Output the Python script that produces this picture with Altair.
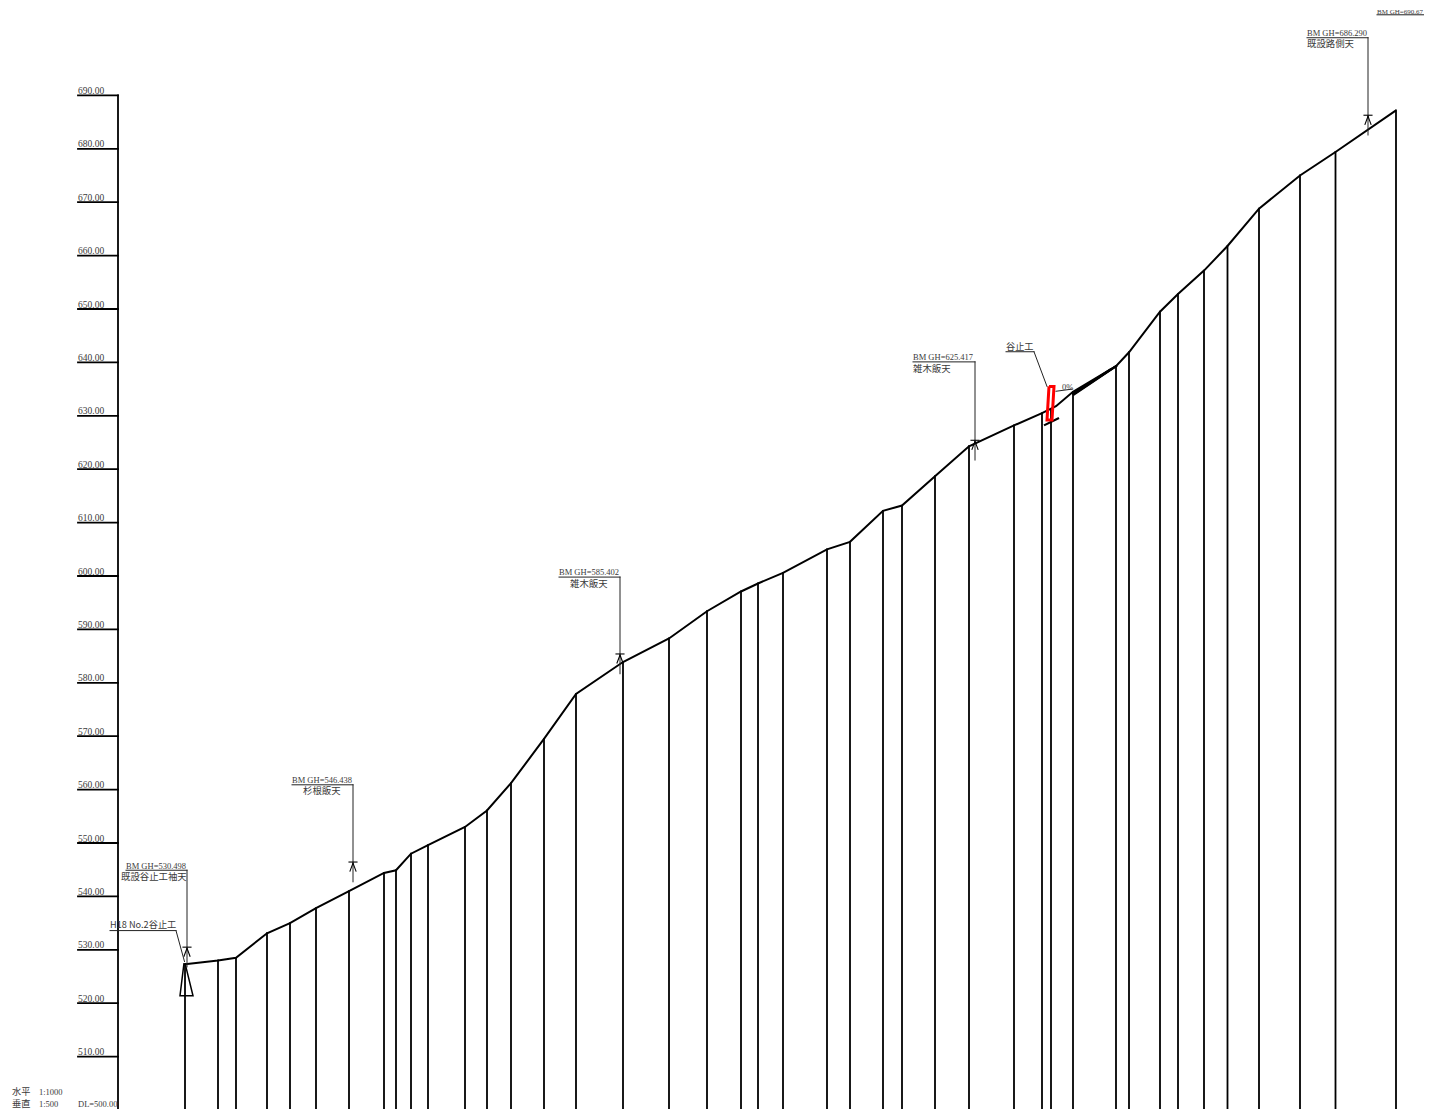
import altair as alt
import pandas as pd

X_DOMAIN = [8, 1424]
Y_DOMAIN = [500.19, 706.37]
BASE = 500

# Ground profile
station_x = [185, 218, 236, 267, 290, 316, 349, 384, 396, 411, 428, 465, 487, 511, 544, 576, 623, 669,
             707, 741, 758, 783, 827, 850, 883, 902, 935, 969, 1014, 1042, 1056, 1073, 1116, 1129,
             1160, 1178, 1204, 1227.5, 1259, 1300, 1335.5, 1396]
ground_elev = [527.3, 528.0, 528.5, 533.1, 535.0, 537.8, 541.0, 544.4, 544.9, 548.0, 549.6, 553.0, 556.1,
               561.2, 569.5, 577.9, 583.9, 588.3, 593.4, 597.1, 598.6, 600.6, 605.0, 606.4, 612.2, 613.2,
               618.7, 624.3, 628.2, 630.5, 631.8, 634.5, 639.3, 641.9, 649.5, 652.8, 657.2, 661.8, 668.8,
               675.0, 679.4, 687.2]
# Vertical station lines
vert_x = [185, 218, 236, 267, 290, 316, 349, 384, 396, 411, 428, 465, 487, 511, 544, 576, 623, 669,
          707, 741, 758, 783, 827, 850, 883, 902, 935, 969, 1014, 1042, 1051, 1073, 1116, 1129,
          1160, 1178, 1204, 1227.5, 1259, 1300, 1335.5, 1396]
vert_top = [527.3, 528.0, 528.5, 533.1, 535.0, 537.8, 541.0, 544.4, 544.9, 548.0, 549.6, 553.0, 556.1,
            561.2, 569.5, 577.9, 583.9, 588.3, 593.4, 597.1, 598.6, 600.6, 605.0, 606.4, 612.2, 613.2,
            618.7, 624.3, 628.2, 630.5, 631.2, 634.5, 639.3, 641.9, 649.5, 652.8, 657.2, 661.8, 668.8,
            675.0, 679.4, 687.2]

# Elevation axis
tick_elev = [510, 520, 530, 540, 550, 560, 570, 580, 590, 600, 610, 620, 630, 640, 650, 660, 670, 680, 690]
tick_labels = ["510.00", "520.00", "530.00", "540.00", "550.00", "560.00", "570.00", "580.00", "590.00",
               "600.00", "610.00", "620.00", "630.00", "640.00", "650.00", "660.00", "670.00", "680.00", "690.00"]

# Benchmarks
bm_x = [187, 353, 620, 975, 1368]
bm_elev = [530.498, 546.438, 585.402, 625.417, 686.290]
bm_left = [126, 292, 559, 913, 1307]
bm_line_elev = [544.9, 560.9, 599.8, 640.1, 700.8]
bm_labels = ["BM GH=530.498", "BM GH=546.438", "BM GH=585.402", "BM GH=625.417", "BM GH=686.290"]
bm_notes = ["既設谷止工袖天", "杉根飯天", "雑木飯天", "雑木飯天", "既設路側天"]
bm_note_x = [121, 303, 570, 913, 1307]

# Straight segments: x, elevation, x2, elevation2
leader_x = [1377, 110, 176, 1006, 1034, 1056]
leader_y = [705.1, 533.6, 533.6, 642.0, 642.0, 634.6]
leader_x2 = [1424, 176, 184.5, 1034, 1047, 1072]
leader_y2 = [705.1, 533.6, 527.8, 642.0, 635.5, 635.0]

# Old dam outline
dam_x = [184, 180, 193, 185]
dam_y = [527.5, 521.4, 521.4, 527.5]
# New dam (red)
red_x = [1049, 1054, 1052, 1047, 1049]
red_y = [635.5, 635.5, 629.2, 629.2, 635.5]
# Heavy wedge and foot
heavy_x = [1045, 1073, 1074, 1078]
heavy_y = [628.3, 634.2, 634.0, 634.6]
heavy_x2 = [1058, 1116, 1116, 1110]
heavy_y2 = [629.5, 639.3, 639.3, 638.6]

free_text = ["H18 No.2谷止工", "谷止工", "0%", "水平", "垂直", "1:1000", "1:500", "DL=500.00"]
free_x = [110, 1006, 1062, 12, 12, 39, 39, 78]
free_y = [534.0, 642.4, 634.9, 502.9, 500.5, 502.9, 500.5, 500.5]
free_font = ["Noto Sans CJK JP", "Noto Sans CJK JP", "Liberation Serif", "Noto Sans CJK JP", "Noto Sans CJK JP",
             "Liberation Serif", "Liberation Serif", "Liberation Serif"]
edge_text = ["BM GH=690.67"]
edge_x = [1377]
edge_y = [705.3]

x_scale = alt.Scale(domain=X_DOMAIN, nice=False, zero=False)
y_scale = alt.Scale(domain=Y_DOMAIN, nice=False, zero=False)
X = lambda f="x": alt.X(f"{f}:Q", scale=x_scale, axis=None)
Y = lambda f="y": alt.Y(f"{f}:Q", scale=y_scale, axis=None)


def segs(df, width=1.0, color="#000000"):
    return alt.Chart(df).mark_rule(color=color, strokeWidth=width, clip=True, strokeCap="square").encode(
        x=X(), y=Y(), x2="x2:Q", y2="y2:Q")


def path(xs, ys, width, color="#000000"):
    df = pd.DataFrame({"x": xs, "y": ys, "o": range(len(xs))})
    return alt.Chart(df).mark_line(color=color, strokeWidth=width, clip=True, strokeJoin="miter").encode(
        x=X(), y=Y(), order="o:Q")


def text(df, font, size, baseline="alphabetic"):
    return alt.Chart(df).mark_text(font=font, fontSize=size, align="left", baseline=baseline,
                                   color="#3a3a3a", clip=True).encode(x=X(), y=Y(), text="t:N")


verticals = pd.DataFrame({"x": vert_x, "y": vert_top, "x2": vert_x, "y2": [BASE] * len(vert_x)})
ticks = pd.DataFrame({"x": [78] * len(tick_elev), "y": tick_elev, "x2": [118] * len(tick_elev), "y2": tick_elev})
axis_line = pd.DataFrame({"x": [118], "y": [690], "x2": [118], "y2": [BASE]})
tick_text = pd.DataFrame({"x": [78] * len(tick_elev), "y": [e + 0.25 for e in tick_elev], "t": tick_labels})

bm_rows, bm_marker = [], []
for x, e, l, le in zip(bm_x, bm_elev, bm_left, bm_line_elev):
    bm_rows.append(dict(x=l, y=le, x2=x, y2=le))
    bm_rows.append(dict(x=x, y=le, x2=x, y2=e - 3.7))
    bm_marker.append(dict(x=x - 4, y=e, x2=x + 4, y2=e))
    bm_marker.append(dict(x=x, y=e - 0.2, x2=x - 3, y2=e - 1.7))
    bm_marker.append(dict(x=x, y=e - 0.2, x2=x + 3, y2=e - 1.7))
bm_df = pd.DataFrame(bm_rows)
marker_df = pd.DataFrame(bm_marker)
bm_text = pd.DataFrame({"x": bm_left, "y": [e + 0.3 for e in bm_line_elev], "t": bm_labels})
note_text = pd.DataFrame({"x": bm_note_x, "y": [e - 0.5 for e in bm_line_elev], "t": bm_notes})
leaders = pd.DataFrame({"x": leader_x, "y": leader_y, "x2": leader_x2, "y2": leader_y2})
heavy = pd.DataFrame({"x": heavy_x, "y": heavy_y, "x2": heavy_x2, "y2": heavy_y2})
free = pd.DataFrame({"x": free_x, "y": free_y, "t": free_text, "f": free_font})
edge = pd.DataFrame({"x": edge_x, "y": edge_y, "t": edge_text})

layers = [
    segs(verticals, 1.8),
    segs(ticks, 1.8),
    segs(axis_line, 1.8),
    path(station_x, ground_elev, 2.0),
    segs(bm_df, 1.0, "#222222"),
    segs(marker_df, 1.1),
    segs(leaders, 1.0, "#222222"),
    path(dam_x, dam_y, 1.5),
    segs(heavy, 2.2),
    path(red_x, red_y, 3.0, "#ff0000"),
    text(tick_text, "Liberation Serif", 9.5),
    text(bm_text, "Liberation Serif", 8.5),
    text(note_text, "Noto Sans CJK JP", 9.4, "top"),
    text(free[free.f == "Noto Sans CJK JP"], "Noto Sans CJK JP", 9.2),
    text(free[free.f == "Liberation Serif"], "Liberation Serif", 8.5),
    text(edge, "Liberation Serif", 7.0),
]

chart = alt.layer(*layers).properties(width=1416, height=1101, padding=0).configure_view(stroke=None)
chart.save("out.html", embed_options={"renderer": "svg", "actions": False})
